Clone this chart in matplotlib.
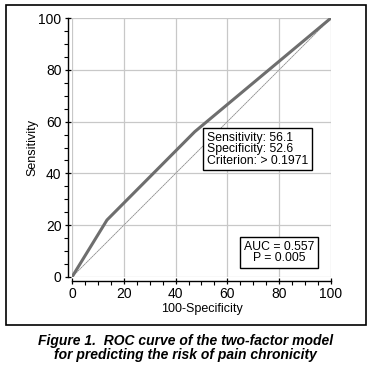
import matplotlib.pyplot as plt
from matplotlib.patches import Rectangle
import numpy as np

plt.rcParams["font.family"] = ["Liberation Sans", "DejaVu Sans"]

# ROC curve points (100-Specificity, Sensitivity)
fpr = [0, 13.5, 47.4, 100]
tpr = [0, 22.0, 56.1, 100]
ref_line = [0, 100]
ticks = [0, 20, 40, 60, 80, 100]

cut_text = "Sensitivity: 56.1\nSpecificity: 52.6\nCriterion: > 0.1971"
auc_text = "AUC = 0.557\nP = 0.005"
caption = ("Figure 1.  ROC curve of the two-factor model\n"
           "for predicting the risk of pain chronicity")

fig = plt.figure(figsize=[3.71, 3.70], dpi=100)
W, H = 371, 370

# outer frame
fig.patches.append(Rectangle((6 / W, 1 - 325 / H), 360 / W, 320 / H,
                             transform=fig.transFigure, fill=False,
                             edgecolor="black", linewidth=1.2))

ax = fig.add_axes([72 / W, 1 - 277 / H, 259 / W, 259 / H])
ax.set_xlim(0, 100)
ax.set_ylim(0, 100)
ax.set_xticks(ticks)
ax.set_yticks(ticks)
ax.set_xticks(np.arange(0, 101, 5), minor=True)
ax.set_yticks(np.arange(0, 101, 5), minor=True)
ax.grid(True, color="#c8c8c8", linewidth=0.9)
for s in ["top", "right"]:
    ax.spines[s].set_visible(False)
for s in ["left", "bottom"]:
    ax.spines[s].set_position(("outward", 3))
    ax.spines[s].set_linewidth(1.0)
ax.tick_params(which="major", direction="inout", length=5, width=0.9,
               labelsize=10, pad=2)
ax.tick_params(which="minor", direction="out", length=3, width=0.8)

ax.plot(ref_line, ref_line, color="#b0b0b0", linewidth=0.6, zorder=3)
ax.plot(ref_line, ref_line, color="#555555", linewidth=0.4, zorder=3,
        dashes=[1, 3])
ax.plot(fpr, tpr, color="#6e6e6e", linewidth=2.2, zorder=4,
        solid_capstyle="butt")

ax.set_xlabel("100-Specificity", fontsize=9, labelpad=1)
ax.set_ylabel("Sensitivity", fontsize=9, labelpad=0)

ax.text(52.0, 49.4, cut_text, fontsize=8.8, ha="left", va="center",
        linespacing=0.95, zorder=5,
        bbox=dict(boxstyle="square,pad=0.3", facecolor="white",
                  edgecolor="black", linewidth=1.0))
ax.text(80, 9.5, auc_text, fontsize=8.8, ha="center", va="center",
        linespacing=0.95, zorder=5,
        bbox=dict(boxstyle="square,pad=0.3", facecolor="white",
                  edgecolor="black", linewidth=1.0))

fig.text(0.5, 1 - 347.5 / H, caption, fontsize=10, fontweight="bold",
         fontstyle="italic", ha="center", va="center", linespacing=1.0)

fig.savefig("out.png", dpi=100)
